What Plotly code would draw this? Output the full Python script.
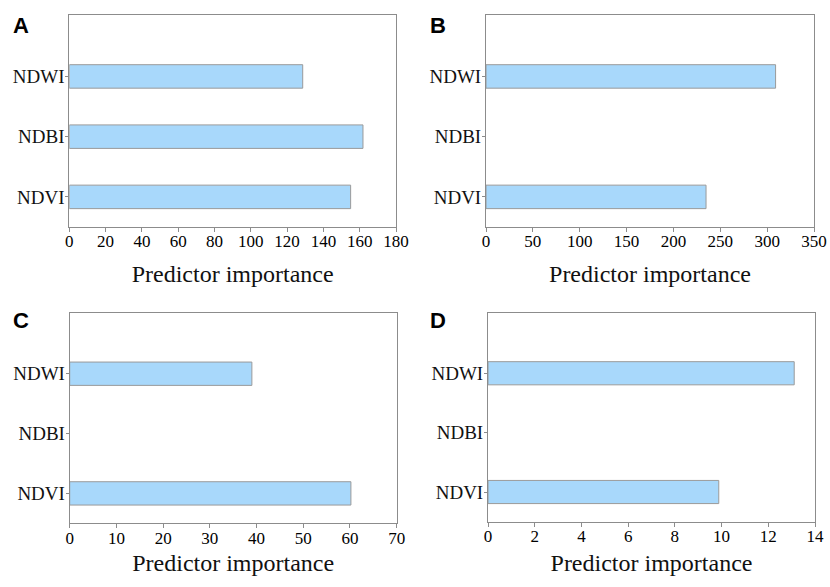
import plotly.graph_objects as go

categories = ["NDVI", "NDBI", "NDWI"]
panel_labels = ["A", "B", "C", "D"]
values_A = [155.0, 161.8, 128.6]
values_B = [234.8, None, 309.0]
values_C = [60.2, None, 39.0]
values_D = [9.88, None, 13.11]
x_max = [180, 350, 70, 14]
x_dtick = [20, 50, 10, 2]
x_title = "Predictor importance"

series = [values_A, values_B, values_C, values_D]

W, H = 830, 587
boxes = [(69.3, 396, 15, 227), (486, 814, 15, 227),
         (69.7, 396.7, 312.7, 523.3), (488, 815, 312.7, 521.7)]
title_standoff = [14, 14, 7, 9]

fig = go.Figure()
serif = "Liberation Serif"
axis_col = "#8c8c8c"

axes = {}
for i, (vals, box) in enumerate(zip(series, boxes)):
    n = "" if i == 0 else str(i + 1)
    fig.add_trace(go.Bar(
        y=categories, x=vals, orientation="h", width=0.39,
        marker=dict(color="#a8d8fb", line=dict(color="#9a9a9a", width=1)),
        xaxis="x" + n, yaxis="y" + n, showlegend=False))
    l, r, t, b = box
    axes["xaxis" + n] = dict(
        domain=[l / W, r / W], anchor="y" + n, range=[0, x_max[i]],
        dtick=x_dtick[i], tick0=0, showgrid=False, zeroline=False,
        showline=True, linecolor=axis_col, linewidth=1, mirror=True,
        ticks="outside", ticklen=4, tickcolor=axis_col, automargin=False,
        ticklabelstandoff=-5,
        tickfont=dict(family=serif, size=17, color="#000"),
        title=dict(text=x_title, font=dict(family=serif, size=24, color="#111"),
                   standoff=title_standoff[i]))
    axes["yaxis" + n] = dict(
        domain=[1 - b / H, 1 - t / H], anchor="x" + n, range=[-0.5, 3.02],
        type="category", categoryorder="array", categoryarray=categories,
        showgrid=False, zeroline=False, automargin=False,
        showline=True, linecolor=axis_col, linewidth=1, mirror=True,
        ticks="outside", ticklen=3, tickcolor=axis_col, ticklabelstandoff=-3,
        tickfont=dict(family=serif, size=19, color="#111"))

annotations = []
label_pos = [(11, 25), (428, 25), (11, 320), (428, 320)]
for lab, (x, y) in zip(panel_labels, label_pos):
    annotations.append(dict(text="<b>" + lab + "</b>", x=x / W, y=1 - y / H,
                       xref="paper", yref="paper", xanchor="left", yanchor="middle",
                       showarrow=False,
                       font=dict(family="Liberation Sans", size=22, color="#000")))

fig.update_layout(width=W, height=H, margin=dict(l=0, r=0, t=0, b=0, autoexpand=False),
                  plot_bgcolor="white", paper_bgcolor="white",
                  annotations=annotations, **axes)

fig.write_html("out.html", config={"displayModeBar": False},
               post_script="document.body.style.margin='0';document.body.style.overflow='hidden';")
